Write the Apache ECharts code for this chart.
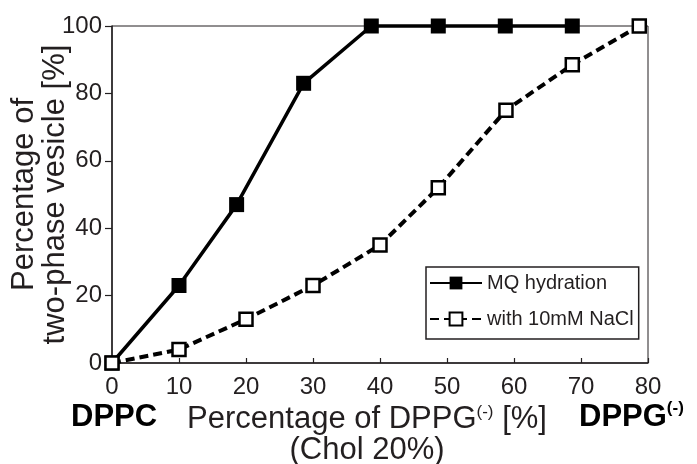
<!DOCTYPE html>
<html>
<head>
<meta charset="utf-8">
<script src="https://cdn.jsdelivr.net/npm/echarts@6/dist/echarts.min.js"></script>
<style>
  html, body { margin: 0; padding: 0; background: #fff; }
  #chart { width: 697px; height: 464px; }
</style>
</head>
<body>
<div id="chart"></div>
<script>
// MQ hydration (filled squares)
const mqX = [0, 10, 18.6, 28.6, 38.7, 48.7, 58.7, 68.7];
const mqY = [0, 23, 47, 83, 100, 100, 100, 100];
// with 10mM NaCl (open squares)
const naclX = [0, 10, 20, 30, 40, 48.7, 58.8, 68.7, 78.7];
const naclY = [0, 4, 13, 23, 35, 52, 75, 88.5, 100];
const seriesNames = ['MQ hydration', 'with 10mM NaCl'];

const ink = '#231f20';
const font = "'Liberation Sans', Arial, sans-serif";

document.addEventListener('DOMContentLoaded', function () {
    const chart = echarts.init(document.getElementById('chart'), null, { renderer: 'canvas' });

    const option = {
        animation: false,
        backgroundColor: '#fff',
        grid: {
            left: 112, right: 49, top: 26, bottom: 101,
            containLabel: false,
            outerBoundsMode: 'none',
            show: true, borderColor: ink, borderWidth: 1
        },
        xAxis: {
            type: 'value',
            min: 0, max: 80, interval: 10,
            name: '{m|Percentage of DPPG}{s|(-)}{m| [%]}\n{m|(Chol 20%)}',
            nameLocation: 'middle',
            nameGap: 41,
            nameMoveOverlap: false,
            nameTextStyle: {
                padding: [0, 26, 0, 0],
                rich: {
                    m: { fontSize: 31, lineHeight: 31, fontFamily: font, color: ink },
                    s: { fontSize: 17, lineHeight: 21, fontFamily: font, color: ink, verticalAlign: 'top' }
                }
            },
            axisLine: { lineStyle: { color: ink, width: 1.5 } },
            axisTick: { inside: true, length: 5, lineStyle: { color: ink, width: 1.2 } },
            axisLabel: { fontSize: 24, fontFamily: font, color: ink, margin: 12 },
            splitLine: { show: false }
        },
        yAxis: {
            type: 'value',
            min: 0, max: 100, interval: 20,
            name: 'Percentage of\ntwo-phase vesicle [%]',
            nameLocation: 'middle',
            nameGap: 41,
            nameMoveOverlap: false,
            nameTextStyle: { fontSize: 31, lineHeight: 31, fontFamily: font, color: ink },
            axisLine: { show: true, lineStyle: { color: ink, width: 1.5 } },
            axisTick: { inside: false, length: 7, lineStyle: { color: ink, width: 1.2 } },
            axisLabel: { fontSize: 24, fontFamily: font, color: ink, margin: 10 },
            splitLine: { show: false }
        },
        legend: {
            orient: 'vertical',
            left: 426, top: 267,
            itemWidth: 52, itemHeight: 16, itemGap: 16,
            padding: [6, 5, 10, 3],
            borderColor: ink, borderWidth: 1.5,
            textStyle: { fontSize: 20, fontFamily: font, color: ink },
            data: seriesNames
        },
        graphic: [
            {
                type: 'text', left: 71, top: 402,
                style: { text: 'DPPC', font: 'bold 31px ' + font, fill: '#000' }
            },
            {
                type: 'text', left: 579, top: 400,
                style: {
                    text: '{b|DPPG}{s|(-)}',
                    rich: {
                        b: { fontSize: 31, fontWeight: 'bold', lineHeight: 34, fontFamily: font, fill: '#000', color: '#000' },
                        s: { fontSize: 17, fontWeight: 'bold', lineHeight: 27, fontFamily: font, fill: '#000', color: '#000', verticalAlign: 'top' }
                    }
                }
            }
        ],
        series: [
            {
                name: seriesNames[0],
                type: 'line',
                clip: false,
                data: mqX.map((x, i) => [x, mqY[i]]),
                symbol: 'rect',
                symbolSize: 15,
                lineStyle: { color: '#000', width: 3.5 },
                itemStyle: { color: '#000', borderWidth: 0 },
                z: 2
            },
            {
                name: seriesNames[1],
                type: 'line',
                clip: false,
                data: naclX.map((x, i) => [x, naclY[i]]),
                symbol: 'rect',
                symbolSize: 13,
                lineStyle: { color: '#000', width: 4, type: [9, 5] },
                itemStyle: { color: '#fff', borderColor: '#000', borderWidth: 2.5 },
                z: 3
            }
        ]
    };
    chart.setOption(option);
});
</script>
</body>
</html>
